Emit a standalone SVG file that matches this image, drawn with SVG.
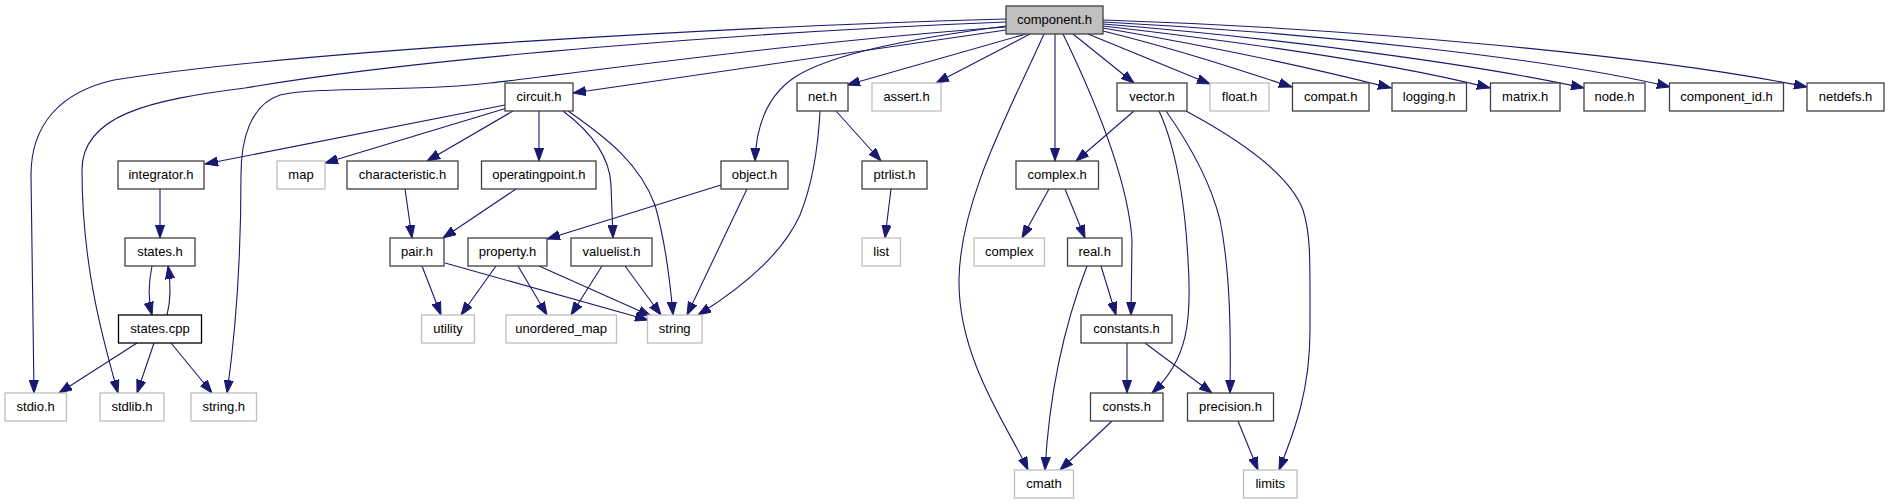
<svg xmlns="http://www.w3.org/2000/svg" width="1888" height="504" viewBox="0 0 1888 504">
<style>
  rect { stroke-width: 1.3; fill: #ffffff; }
  .n rect { stroke: #404040; }
  .b rect { stroke: #000000; }
  .g rect { stroke: #bfbfbf; }
  .m rect { stroke: #404040; fill: #bfbfbf; }
  text { font-family: "Liberation Sans", Arial, sans-serif; font-size: 13px; fill: #000000; text-anchor: middle; }
  #edges path { fill: none; stroke: #191970; stroke-width: 1.1; marker-end: url(#arr); }
</style>
<defs>
  <marker id="arr" markerUnits="userSpaceOnUse" markerWidth="14" markerHeight="10" refX="13" refY="5" orient="auto" viewBox="0 0 14 10">
    <path d="M0,0.4 L13,5 L0,9.6 z" fill="#191970" stroke="#191970" stroke-width="1"/>
  </marker>
</defs>
<rect x="0" y="0" width="1888" height="504" style="fill:#ffffff;stroke:none"/>

<g id="edges">
  <!-- component.h -->
  <path d="M1006,19 C750,26 300,50 114,80 C60,92 31,125 31,175 L34,393"/>
  <path d="M1006,22 C750,32 420,58 245,88 C150,100 82,115 82,170 C82,260 100,330 118,393"/>
  <path d="M1006,27 C800,42 600,70 490,83 C420,92 320,86 280,95 C250,105 241,140 241,175 C241,260 236,330 227,393"/>
  <path d="M1006,30 L573,93"/>
  <path d="M1006,26 C900,40 830,55 795,77 C765,97 756,130 755,161"/>
  <path d="M1026,34 L847,85"/>
  <path d="M1030,34 L936,83"/>
  <path d="M1044,34 C1010,110 960,200 959,280 C958,360 1010,430 1028,470"/>
  <path d="M1055,34 L1055,161"/>
  <path d="M1063,34 C1095,100 1128,180 1132,240 L1131,315"/>
  <path d="M1073,34 L1134,83"/>
  <path d="M1088,34 L1210,84"/>
  <path d="M1103,31 C1180,50 1240,70 1292,87"/>
  <path d="M1103,28 C1220,48 1320,70 1391,88"/>
  <path d="M1103,26 C1250,43 1400,65 1490,88"/>
  <path d="M1103,24 C1280,38 1480,65 1584,88"/>
  <path d="M1103,22 C1320,33 1560,60 1670,87"/>
  <path d="M1103,20 C1350,28 1650,55 1807,87"/>
  <!-- circuit.h -->
  <path d="M505,105 L205,164"/>
  <path d="M507,108 L325,163"/>
  <path d="M513,111 L427,161"/>
  <path d="M539,111 L539,161"/>
  <path d="M563,111 C595,135 610,160 611,185 L613,238"/>
  <path d="M568,111 C610,140 640,165 655,205 C665,240 670,280 673,315"/>
  <!-- integrator / states -->
  <path d="M160,189 L160,238"/>
  <path d="M152,266 C148,285 148,300 152,315"/>
  <path d="M167,315 C171,300 171,285 168,266"/>
  <path d="M137,343 L59,393"/>
  <path d="M154,343 L137,393"/>
  <path d="M171,343 L212,393"/>
  <!-- characteristic / operatingpoint / pair -->
  <path d="M405,189 L412,238"/>
  <path d="M516,189 L443,238"/>
  <path d="M422,266 L441,315"/>
  <path d="M445,263 L648,320"/>
  <!-- property / valuelist -->
  <path d="M496,266 L461,315"/>
  <path d="M518,266 L547,315"/>
  <path d="M539,266 L651,316"/>
  <path d="M602,266 L571,315"/>
  <path d="M625,266 L661,315"/>
  <!-- object / net / ptrlist -->
  <path d="M721,185 L547,239"/>
  <path d="M747,189 L687,315"/>
  <path d="M836,111 L881,161"/>
  <path d="M820,111 C818,150 812,185 800,215 C780,260 730,295 698,315"/>
  <path d="M891,189 L885,238"/>
  <!-- vector.h -->
  <path d="M1134,111 L1076,161"/>
  <path d="M1159,111 C1175,145 1185,200 1188,260 C1192,320 1188,360 1152,393"/>
  <path d="M1166,111 C1190,145 1210,180 1220,220 C1230,270 1231,330 1230,393"/>
  <path d="M1186,111 C1240,140 1290,175 1303,210 C1311,235 1310,260 1310,330 C1310,390 1295,430 1279,470"/>
  <!-- complex / real / constants / consts / precision -->
  <path d="M1049,189 L1022,238"/>
  <path d="M1065,189 L1085,238"/>
  <path d="M1101,266 L1116,315"/>
  <path d="M1087,266 C1070,310 1050,380 1045,470"/>
  <path d="M1127,343 L1127,393"/>
  <path d="M1145,343 L1212,393"/>
  <path d="M1112,421 L1060,470"/>
  <path d="M1238,421 L1258,470"/>
</g>

<g id="node-component_h" class="m"><rect x="1006" y="6" width="97" height="28"/><text x="1054.5" y="24">component.h</text></g>

<g id="node-circuit_h" class="n"><rect x="505" y="83" width="68" height="28"/><text x="539" y="101">circuit.h</text></g>
<g id="node-net_h" class="n"><rect x="797" y="83" width="51" height="28"/><text x="822.5" y="101">net.h</text></g>
<g id="node-assert_h" class="g"><rect x="872" y="83" width="69" height="28"/><text x="906.5" y="101">assert.h</text></g>
<g id="node-vector_h" class="n"><rect x="1117" y="83" width="70" height="28"/><text x="1152" y="101">vector.h</text></g>
<g id="node-float_h" class="g"><rect x="1210" y="83" width="59" height="28"/><text x="1239.5" y="101">float.h</text></g>
<g id="node-compat_h" class="n"><rect x="1292.5" y="83" width="76.5" height="28"/><text x="1330.7" y="101">compat.h</text></g>
<g id="node-logging_h" class="n"><rect x="1392" y="83" width="74.5" height="28"/><text x="1429.2" y="101">logging.h</text></g>
<g id="node-matrix_h" class="n"><rect x="1490.5" y="83" width="69.5" height="28"/><text x="1525.2" y="101">matrix.h</text></g>
<g id="node-node_h" class="n"><rect x="1584" y="83" width="61" height="28"/><text x="1614.5" y="101">node.h</text></g>
<g id="node-component_id_h" class="n"><rect x="1669.5" y="83" width="114" height="28"/><text x="1726.5" y="101">component_id.h</text></g>
<g id="node-netdefs_h" class="n"><rect x="1807" y="83" width="77" height="28"/><text x="1845.5" y="101">netdefs.h</text></g>

<g id="node-integrator_h" class="n"><rect x="118" y="161" width="86" height="28"/><text x="161" y="179">integrator.h</text></g>
<g id="node-map" class="g"><rect x="277" y="161" width="48" height="28"/><text x="301" y="179">map</text></g>
<g id="node-characteristic_h" class="n"><rect x="347" y="161" width="111" height="28"/><text x="402.5" y="179">characteristic.h</text></g>
<g id="node-operatingpoint_h" class="n"><rect x="481.5" y="161" width="114.5" height="28"/><text x="538.8" y="179">operatingpoint.h</text></g>
<g id="node-object_h" class="n"><rect x="721" y="161" width="67" height="28"/><text x="754.5" y="179">object.h</text></g>
<g id="node-ptrlist_h" class="n"><rect x="862" y="161" width="65" height="28"/><text x="894.5" y="179">ptrlist.h</text></g>
<g id="node-complex_h" class="n"><rect x="1016" y="161" width="82.5" height="28"/><text x="1057.2" y="179">complex.h</text></g>

<g id="node-states_h" class="n"><rect x="125" y="238" width="70" height="28"/><text x="160" y="256">states.h</text></g>
<g id="node-pair_h" class="n"><rect x="390" y="238" width="54" height="28"/><text x="417" y="256">pair.h</text></g>
<g id="node-property_h" class="n"><rect x="468" y="238" width="79" height="28"/><text x="507.5" y="256">property.h</text></g>
<g id="node-valuelist_h" class="n"><rect x="571" y="238" width="81" height="28"/><text x="611.5" y="256">valuelist.h</text></g>
<g id="node-list" class="g"><rect x="862" y="238" width="38.5" height="28"/><text x="881.2" y="256">list</text></g>
<g id="node-complex" class="g"><rect x="974" y="238" width="70.5" height="28"/><text x="1009.2" y="256">complex</text></g>
<g id="node-real_h" class="n"><rect x="1067.5" y="238" width="54.5" height="28"/><text x="1094.7" y="256">real.h</text></g>

<g id="node-states_cpp" class="b"><rect x="118.5" y="315" width="83" height="28"/><text x="160" y="333">states.cpp</text></g>
<g id="node-utility" class="g"><rect x="421.5" y="315" width="53" height="28"/><text x="448" y="333">utility</text></g>
<g id="node-unordered_map" class="g"><rect x="506" y="315" width="110.5" height="28"/><text x="561.2" y="333">unordered_map</text></g>
<g id="node-string" class="g"><rect x="647.5" y="315" width="54.5" height="28"/><text x="674.7" y="333">string</text></g>
<g id="node-constants_h" class="n"><rect x="1081" y="315" width="91" height="28"/><text x="1126.5" y="333">constants.h</text></g>

<g id="node-stdio_h" class="g"><rect x="5" y="393" width="61.5" height="28"/><text x="35.7" y="411">stdio.h</text></g>
<g id="node-stdlib_h" class="g"><rect x="100" y="393" width="64" height="28"/><text x="132" y="411">stdlib.h</text></g>
<g id="node-string_h" class="g"><rect x="191" y="393" width="65.5" height="28"/><text x="223.7" y="411">string.h</text></g>
<g id="node-consts_h" class="n"><rect x="1090.5" y="393" width="72.5" height="28"/><text x="1126.7" y="411">consts.h</text></g>
<g id="node-precision_h" class="n"><rect x="1187.5" y="393" width="86" height="28"/><text x="1230.5" y="411">precision.h</text></g>

<g id="node-cmath" class="g"><rect x="1014.5" y="470" width="59" height="28"/><text x="1044" y="488">cmath</text></g>
<g id="node-limits" class="g"><rect x="1243.5" y="470" width="53.5" height="28"/><text x="1270.2" y="488">limits</text></g>
</svg>
